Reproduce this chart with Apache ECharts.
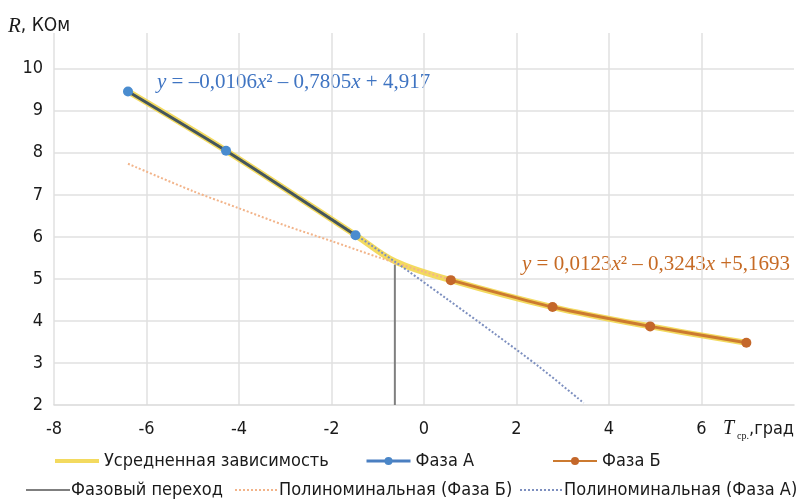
<!DOCTYPE html>
<html><head><meta charset="utf-8">
<script src="https://cdn.jsdelivr.net/npm/echarts@6/dist/echarts.min.js"></script>
<style>html,body{margin:0;padding:0;background:#fff}#c{width:800px;height:501px}</style>
</head><body><div id="c"></div>
<script>
// ---- data ----
const phaseA_x = [-6.4, -4.28, -1.48];
const phaseA_y = [9.46, 8.05, 6.04];
const phaseB_x = [0.58, 2.78, 4.89, 6.97];
const phaseB_y = [4.97, 4.33, 3.87, 3.48];
const avg_x = [-6.4, -4.28, -1.48, -0.63, 0.58, 2.78, 4.89, 6.97];
const avg_y = [9.46, 8.05, 6.04, 5.42, 4.97, 4.33, 3.87, 3.48];
const trans_x = [-0.63, -0.63];
const trans_y = [2, 5.34];
const trendB_x = [-6.4, -5, -4, -3, -2, -1, 0, 0.58];
const trendB_y = [7.74, 7.09, 6.68, 6.27, 5.9, 5.52, 5.17, 4.98];
const trendA_x = [-6.4, -4.28, -1.48, -0.63, 0.5, 1.5, 2.5, 3.45];
const trendA_y = [9.46, 8.05, 6.05, 5.41, 4.52, 3.72, 2.9, 2.05];
const xTicks = [-8, -6, -4, -2, 0, 2, 4, 6];
const yTicks = [2, 3, 4, 5, 6, 7, 8, 9, 10];
const names = ['Усредненная зависимость', 'Фаза А', 'Фаза Б', 'Фазовый переход', 'Полиноминальная (Фаза Б)', 'Полиноминальная (Фаза А)'];
const eqA = '{i|y} = –0,0106{i|x}² – 0,7805{i|x} + 4,917';
const eqB = '{i|y} = 0,0123{i|x}² – 0,3243{i|x} +5,1693';

const zip = (xs, ys) => xs.map((x, i) => [x, ys[i]]);
const SANS = "'Liberation Sans Narrow','DejaVu Sans Condensed','Liberation Sans',sans-serif";
const SERIF = "'Liberation Serif','DejaVu Serif',serif";

const chart = echarts.init(document.getElementById('c'), null, {renderer: 'canvas'});

function legendAt(item, left, top, textPad) {
  return {
    show: true, left: left, top: top, orient: 'horizontal', padding: 0,
    data: [item], itemWidth: 44, itemHeight: 10, itemGap: 0,
    textStyle: {fontFamily: SANS, fontSize: 18, color: '#1a1a1a', padding: [0, 0, 0, textPad || 0]},
    selectedMode: false
  };
}
const noSym = {opacity: 0};

const option = {
  animation: false,
  backgroundColor: '#fff',
  grid: {left: 54, right: 6, top: 33, bottom: 96, containLabel: false},
  xAxis: {
    type: 'value', min: -8, max: 8, interval: 2,
    axisLine: {show: true, lineStyle: {color: '#d9d9d9', width: 1.5}},
    axisTick: {show: false},
    splitLine: {show: true, showMaxLine: false, lineStyle: {color: '#e0e0e0', width: 1.5}},
    axisLabel: {
      fontFamily: SANS, fontSize: 18, color: '#1a1a1a', margin: 15,
      formatter: v => xTicks.includes(v) ? String(v) : ''
    }
  },
  yAxis: {
    type: 'value', min: 2, max: 10.85, interval: 1,
    axisLine: {show: false}, axisTick: {show: false},
    splitLine: {show: true, showMaxLine: false, showMinLine: false, lineStyle: {color: '#e0e0e0', width: 1.5}},
    axisLabel: {
      fontFamily: SANS, fontSize: 18, color: '#1a1a1a', margin: 11,
      formatter: v => yTicks.includes(v) ? String(v) : ''
    }
  },
  legend: [
    legendAt({name: names[0], itemStyle: noSym, lineStyle: {width: 4}}, 53, 452),
    legendAt({name: names[1], lineStyle: {color: '#4a7fc1', width: 3}, itemStyle: {color: '#4a86c8'}}, 365, 452),
    legendAt({name: names[2]}, 552, 452),
    legendAt({name: names[3], itemStyle: noSym}, 25, 481, -4),
    legendAt({name: names[4], itemStyle: noSym}, 234, 481, -5),
    legendAt({name: names[5], itemStyle: noSym}, 519, 481, -5)
  ],
  series: [
    {
      name: names[0], type: 'line', data: zip(avg_x, avg_y), smooth: 0.35,
      showSymbol: false, symbol: 'none', z: 1,
      lineStyle: {color: '#f2d64e', width: 6, opacity: 0.9}, itemStyle: {color: '#f2d64e'}
    },
    {
      name: names[4], type: 'line', data: zip(trendB_x, trendB_y), smooth: 0.3,
      symbol: 'none', z: 2,
      lineStyle: {color: '#f2b48a', width: 2, type: [2, 2]}, itemStyle: {color: '#f2b48a'}
    },
    {
      name: names[5], type: 'line', data: zip(trendA_x, trendA_y), smooth: 0.3,
      symbol: 'none', z: 2,
      lineStyle: {color: '#7d8fbf', width: 2, type: [2, 2]}, itemStyle: {color: '#7d8fbf'}
    },
    {
      name: names[1], type: 'line', data: zip(phaseA_x, phaseA_y), smooth: 0.2,
      symbol: 'circle', symbolSize: 10, z: 4,
      lineStyle: {color: '#44555c', width: 3}, itemStyle: {color: '#4a8ccf'}
    },
    {
      name: names[2], type: 'line', data: zip(phaseB_x, phaseB_y), smooth: 0.2,
      symbol: 'circle', symbolSize: 10, z: 4,
      lineStyle: {color: '#cc7a30', width: 3}, itemStyle: {color: '#c4672a'}
    },
    {
      name: names[3], type: 'line', data: zip(trans_x, trans_y),
      symbol: 'none', z: 3,
      lineStyle: {color: '#7f7f7f', width: 2}, itemStyle: {color: '#7f7f7f'}
    }
  ],
  graphic: [
    {type: 'text', left: 8, top: 16, style: {
      text: '{i|R}, КОм', rich: {i: {fontFamily: SERIF, fontStyle: 'italic', fontSize: 21, fill: '#1a1a1a'}},
      font: "19px " + SANS, fill: '#1a1a1a'}},
    {type: 'text', left: 157, top: 72, style: {
      text: eqA, font: "21px " + SERIF, fill: '#3f74c2',
      rich: {i: {fontFamily: SERIF, fontStyle: 'italic', fontSize: 21, fill: '#3f74c2'}}}},
    {type: 'text', left: 522, top: 254, style: {
      text: eqB, font: "21px " + SERIF, fill: '#c66a24',
      rich: {i: {fontFamily: SERIF, fontStyle: 'italic', fontSize: 21, fill: '#c66a24'}}}},
    {type: 'text', left: 723, top: 419, style: {text: 'T', font: "italic 20px " + SERIF, fill: '#1a1a1a'}},
    {type: 'text', left: 737, top: 431, style: {text: 'ср.', font: "10px " + SERIF, fill: '#1a1a1a'}},
    {type: 'text', left: 749, top: 420, style: {text: ',град', font: "18px " + SANS, fill: '#1a1a1a'}}
  ]
};
chart.setOption(option);
</script></body></html>
